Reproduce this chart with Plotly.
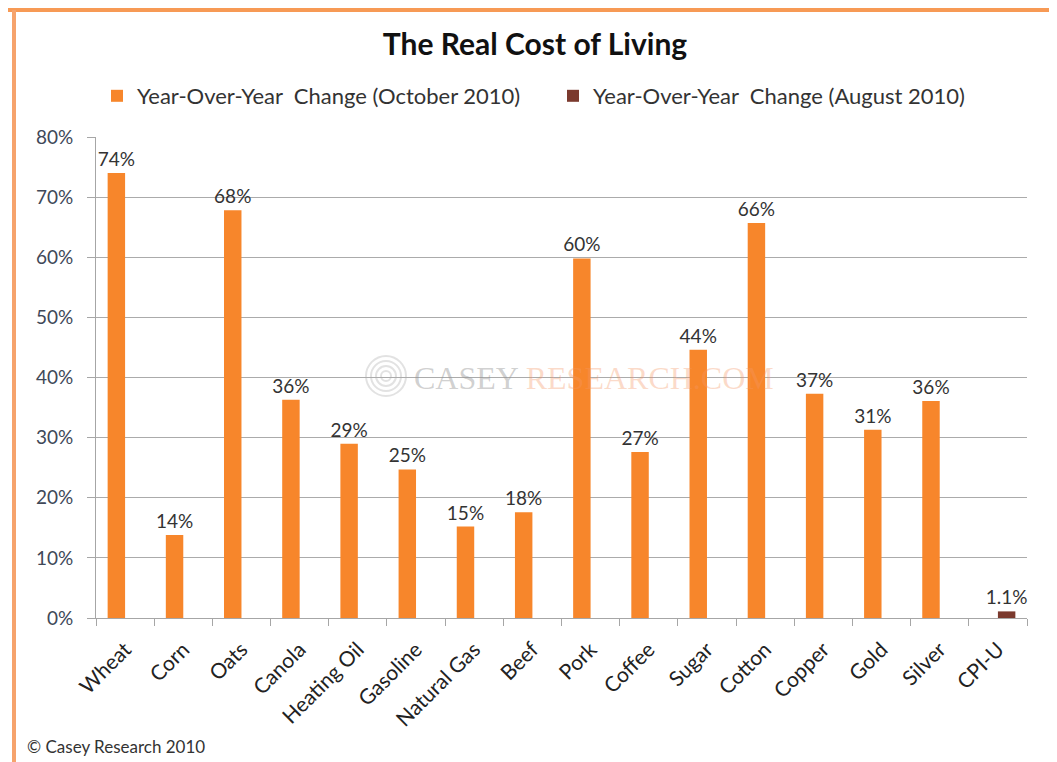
import plotly.graph_objects as go

categories = ["Wheat", "Corn", "Oats", "Canola", "Heating Oil", "Gasoline",
              "Natural Gas", "Beef", "Pork", "Coffee", "Sugar", "Cotton",
              "Copper", "Gold", "Silver", "CPI-U"]
october_values = [74.0, 13.8, 67.8, 36.3, 29.0, 24.7, 15.2, 17.6, 59.8, 27.6,
                  44.6, 65.7, 37.3, 31.3, 36.1, None]
october_labels = ["74%", "14%", "68%", "36%", "29%", "25%", "15%", "18%", "60%",
                  "27%", "44%", "66%", "37%", "31%", "36%", ""]
august_values = [None] * 15 + [1.1]
august_labels = [""] * 15 + ["1.1%"]
y_ticks = [0, 10, 20, 30, 40, 50, 60, 70, 80]
y_tick_labels = [f"{v}%" for v in y_ticks]

# page offset (browser body margin) so screen coordinates line up
OFF = 8
W, H = 1057 - OFF, 762 - OFF
L, R, T, B = 96 - OFF, 30, 137 - OFF, 144
PW, PH = W - L - R, H - T - B


def px(x):
    """screen x -> paper x"""
    return (x - OFF - L) / PW


def py(y):
    """screen y -> paper y"""
    return (H - B - (y - OFF)) / PH


FONT = "Lato, 'Open Sans', sans-serif"
ORANGE = "#F7862B"
DARK = "#7B3A2E"

fig = go.Figure()
fig.add_trace(go.Bar(
    x=categories, y=october_values, name="Year-Over-Year  Change (October 2010)",
    marker=dict(color=ORANGE, line=dict(width=0)),
    text=october_labels, textposition="outside", cliponaxis=False,
    constraintext="none",
    textfont=dict(size=19, color="#333333", family=FONT),
))
fig.add_trace(go.Bar(
    x=categories, y=august_values, name="Year-Over-Year  Change (August 2010)",
    marker=dict(color=DARK, line=dict(width=0)),
    text=august_labels, textposition="outside", cliponaxis=False,
    constraintext="none",
    textfont=dict(size=19, color="#333333", family=FONT),
))

shapes = [
    # top orange border
    dict(type="rect", xref="paper", yref="paper", x0=px(0), x1=px(1057),
         y0=py(12), y1=py(8), fillcolor="#F79A55", line=dict(width=0), layer="above"),
    # left border
    dict(type="rect", xref="paper", yref="paper", x0=px(12), x1=px(16),
         y0=py(762), y1=py(10), fillcolor="#F6A36C", line=dict(width=0), layer="above"),
    # right border
    dict(type="rect", xref="paper", yref="paper", x0=px(1053), x1=px(1057),
         y0=py(762), y1=py(10), fillcolor="#FAD3B4", line=dict(width=0), layer="above"),
]
# faint watermark logo circles
cx, cy = 386, 376
for r in [5, 10, 15, 20]:
    shapes.append(dict(type="circle", xref="paper", yref="paper",
                       x0=px(cx - r), x1=px(cx + r), y0=py(cy + r), y1=py(cy - r),
                       line=dict(color="rgba(160,160,160,0.30)", width=2),
                       layer="below"))

fig.update_layout(
    width=W, height=H,
    margin=dict(l=L, r=R, t=T, b=B, autoexpand=False),
    paper_bgcolor="white", plot_bgcolor="white",
    font=dict(family=FONT, color="#333333"),
    barmode="group", bargap=0.40, bargroupgap=0.0,
    title=dict(text="<b>The Real Cost of Living</b>", x=px(535), xref="paper",
               y=1 - (44 - OFF) / H, yanchor="middle", xanchor="center",
               font=dict(size=30, color="#111111", family=FONT)),
    legend=dict(orientation="h", x=px(97), xanchor="left", y=py(96), yanchor="middle",
                yref="paper", font=dict(size=22, color="#333333", family=FONT),
                itemwidth=30, entrywidth=411, entrywidthmode="pixels",
                bgcolor="rgba(0,0,0,0)", traceorder="normal"),
    xaxis=dict(
        type="category", tickangle=-45, tickson="boundaries",
        ticks="outside", ticklen=7, tickcolor="#A6A6A6",
        showline=True, linecolor="#A6A6A6", linewidth=1,
        showgrid=False, ticklabelstandoff=10,
        tickfont=dict(size=21, color="#222222", family=FONT),
    ),
    yaxis=dict(
        range=[0, 80], tickvals=y_ticks, ticktext=y_tick_labels,
        ticks="outside", ticklen=8, tickcolor="#A6A6A6",
        showline=True, linecolor="#A6A6A6", linewidth=1,
        showgrid=True, gridcolor="#ABABAB", gridwidth=1, zeroline=False,
        ticklabelstandoff=10,
        tickfont=dict(size=19, color="#404858", family=FONT),
    ),
    shapes=shapes,
    annotations=[
        dict(text="<span style='color:rgba(150,150,150,0.45)'>CASEY</span> "
                  "<span style='color:rgba(245,150,100,0.35)'>RESEARCH.COM</span>",
             xref="paper", yref="paper", x=px(412), y=py(378),
             xanchor="left", yanchor="middle", showarrow=False,
             font=dict(size=32, family="'Liberation Serif', 'DejaVu Serif', serif",
                       variant="small-caps")),
        dict(text="© Casey Research 2010", xref="paper", yref="paper",
             x=px(25), y=py(746), xanchor="left", yanchor="middle", showarrow=False,
             font=dict(size=17, color="#333333", family=FONT)),
    ],
)

fig.write_html("out.html")
